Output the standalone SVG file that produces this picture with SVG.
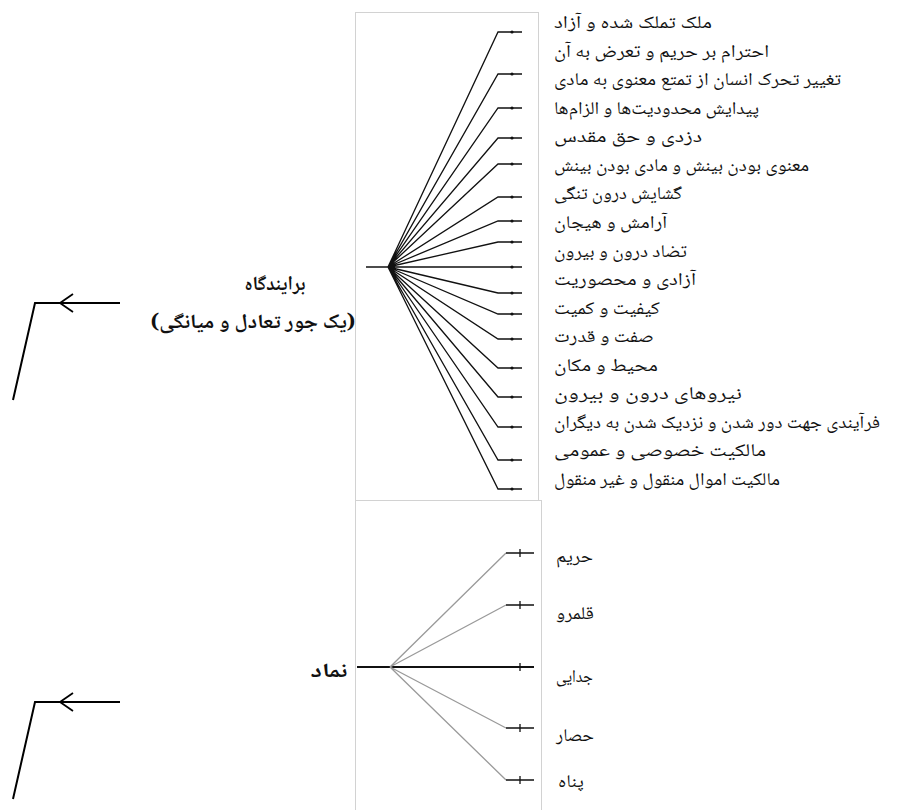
<svg xmlns="http://www.w3.org/2000/svg" width="905" height="810" viewBox="0 0 905 810">
<defs>
<style>
.lbl{font-family:"Noto Naskh Arabic","Noto Sans Arabic","DejaVu Sans",sans-serif;font-size:18px;fill:#111;direction:rtl;unicode-bidi:embed;text-anchor:end}
.big{font-family:"Noto Naskh Arabic","Noto Sans Arabic","DejaVu Sans",sans-serif;font-size:20px;font-weight:bold;fill:#111;direction:rtl;unicode-bidi:embed;text-anchor:middle}
.panel{fill:#fff;stroke:#d2d2d2;stroke-width:1}
.ln{fill:none;stroke:#111;stroke-width:1.3}
.gln{fill:none;stroke:#9a9a9a;stroke-width:1.3}
.tk{fill:none;stroke:#111;stroke-width:1.5}
.arr{fill:none;stroke:#000;stroke-width:2}
.head{fill:none;stroke:#000;stroke-width:1.8}
</style>
</defs>
<rect width="905" height="810" fill="#fff"/>

<g id="panels">
<rect class="panel" x="355.5" y="12.5" width="183" height="491"/>
<rect class="panel" x="355.5" y="500.5" width="186" height="312"/>
</g>

<g id="connectors">
<path class="tk" d="M366,267 H388"/>
<path class="ln" d="M388,267 L498,32 H522 M388,267 L498,74 H522 M388,267 L498,108 H522 M388,267 L498,138 H522 M388,267 L498,164 H522 M388,267 L498,197 H522 M388,267 L498,221 H522 M388,267 L498,242 H522 M388,267 H522 M388,267 L498,293 H522 M388,267 L498,314 H522 M388,267 L498,339 H522 M388,267 L498,368 H522 M388,267 L498,397 H522 M388,267 L498,427 H522 M388,267 L498,460 H522 M388,267 L498,489 H522"/>
<g fill="#111">
<circle cx="512" cy="32" r="1.6"/><circle cx="512" cy="74" r="1.6"/><circle cx="512" cy="108" r="1.6"/><circle cx="512" cy="138" r="1.6"/><circle cx="512" cy="164" r="1.6"/><circle cx="512" cy="197" r="1.6"/><circle cx="512" cy="221" r="1.6"/><circle cx="512" cy="242" r="1.6"/><circle cx="512" cy="267" r="1.6"/><circle cx="512" cy="293" r="1.6"/><circle cx="512" cy="314" r="1.6"/><circle cx="512" cy="339" r="1.6"/><circle cx="512" cy="368" r="1.6"/><circle cx="512" cy="397" r="1.6"/><circle cx="512" cy="427" r="1.6"/><circle cx="512" cy="460" r="1.6"/><circle cx="512" cy="489" r="1.6"/>
</g>
<path d="M357,667 H534" fill="none" stroke="#111" stroke-width="2"/>
<path class="gln" d="M390,667 L506,553 M390,667 L506,605 M390,667 L506,728 M390,667 L506,780"/>
<path class="tk" d="M506,553 H534 M506,605 H534 M506,728 H534 M506,780 H534"/>
<path d="M520,549 V557 M520,601 V609 M520,663 V671 M520,724 V732 M520,776 V784" stroke="#111" stroke-width="1.3"/>
<path class="arr" d="M120,303 H35 L13,400"/>
<path class="arr" d="M120,702 H35 L13,799"/>
<path class="head" d="M73,294 L60,303 L73,312 M73,693 L60,702 L73,711"/>
</g>

<g id="node-barayandgah">
<text class="big" x="275" y="290" textLength="61" lengthAdjust="spacingAndGlyphs">برایندگاه</text>
<text class="big" x="253" y="328" textLength="205" lengthAdjust="spacingAndGlyphs">(یک جور تعادل و میانگی)</text>
</g>
<g id="node-namad">
<text class="big" x="329" y="677" textLength="37" lengthAdjust="spacingAndGlyphs">نماد</text>
</g>

<g id="top-labels">
<text class="lbl" x="554" y="28" textLength="158" lengthAdjust="spacingAndGlyphs">ملک تملک شده و آزاد</text>
<text class="lbl" x="554" y="56.6" textLength="215" lengthAdjust="spacingAndGlyphs">احترام بر حریم و تعرض به آن</text>
<text class="lbl" x="554" y="85.1" textLength="287" lengthAdjust="spacingAndGlyphs">تغییر تحرک انسان از تمتع معنوی به مادی</text>
<text class="lbl" x="554" y="113.7" textLength="205" lengthAdjust="spacingAndGlyphs">پیدایش محدودیت‌ها و الزام‌ها</text>
<text class="lbl" x="554" y="142.2" textLength="148" lengthAdjust="spacingAndGlyphs">دزدی و حق مقدس</text>
<text class="lbl" x="554" y="170.8" textLength="255" lengthAdjust="spacingAndGlyphs">معنوی بودن بینش و مادی بودن بینش</text>
<text class="lbl" x="554" y="199.4" textLength="128" lengthAdjust="spacingAndGlyphs">گشایش درون تنگی</text>
<text class="lbl" x="554" y="227.9" textLength="113" lengthAdjust="spacingAndGlyphs">آرامش و هیجان</text>
<text class="lbl" x="554" y="256.5" textLength="133" lengthAdjust="spacingAndGlyphs">تضاد درون و بیرون</text>
<text class="lbl" x="554" y="285" textLength="142" lengthAdjust="spacingAndGlyphs">آزادی و محصوریت</text>
<text class="lbl" x="554" y="313.6" textLength="106" lengthAdjust="spacingAndGlyphs">کیفیت و کمیت</text>
<text class="lbl" x="554" y="342.2" textLength="100" lengthAdjust="spacingAndGlyphs">صفت و قدرت</text>
<text class="lbl" x="554" y="370.7" textLength="104" lengthAdjust="spacingAndGlyphs">محیط و مکان</text>
<text class="lbl" x="554" y="399.3" textLength="188" lengthAdjust="spacingAndGlyphs">نیروهای درون و بیرون</text>
<text class="lbl" x="554" y="427.8" textLength="326" lengthAdjust="spacingAndGlyphs">فرآیندی جهت دور شدن و نزدیک شدن به دیگران</text>
<text class="lbl" x="554" y="456.4" textLength="212" lengthAdjust="spacingAndGlyphs">مالکیت خصوصی و عمومی</text>
<text class="lbl" x="554" y="485" textLength="226" lengthAdjust="spacingAndGlyphs">مالکیت اموال منقول و غیر منقول</text>
</g>

<g id="bottom-labels">
<text class="lbl" x="556" y="562" textLength="37" lengthAdjust="spacingAndGlyphs">حریم</text>
<text class="lbl" x="556" y="619" textLength="38" lengthAdjust="spacingAndGlyphs">قلمرو</text>
<text class="lbl" x="556" y="682" textLength="37" lengthAdjust="spacingAndGlyphs">جدایی</text>
<text class="lbl" x="556" y="741" textLength="38" lengthAdjust="spacingAndGlyphs">حصار</text>
<text class="lbl" x="558" y="787" textLength="26" lengthAdjust="spacingAndGlyphs">پناه</text>
</g>
</svg>
